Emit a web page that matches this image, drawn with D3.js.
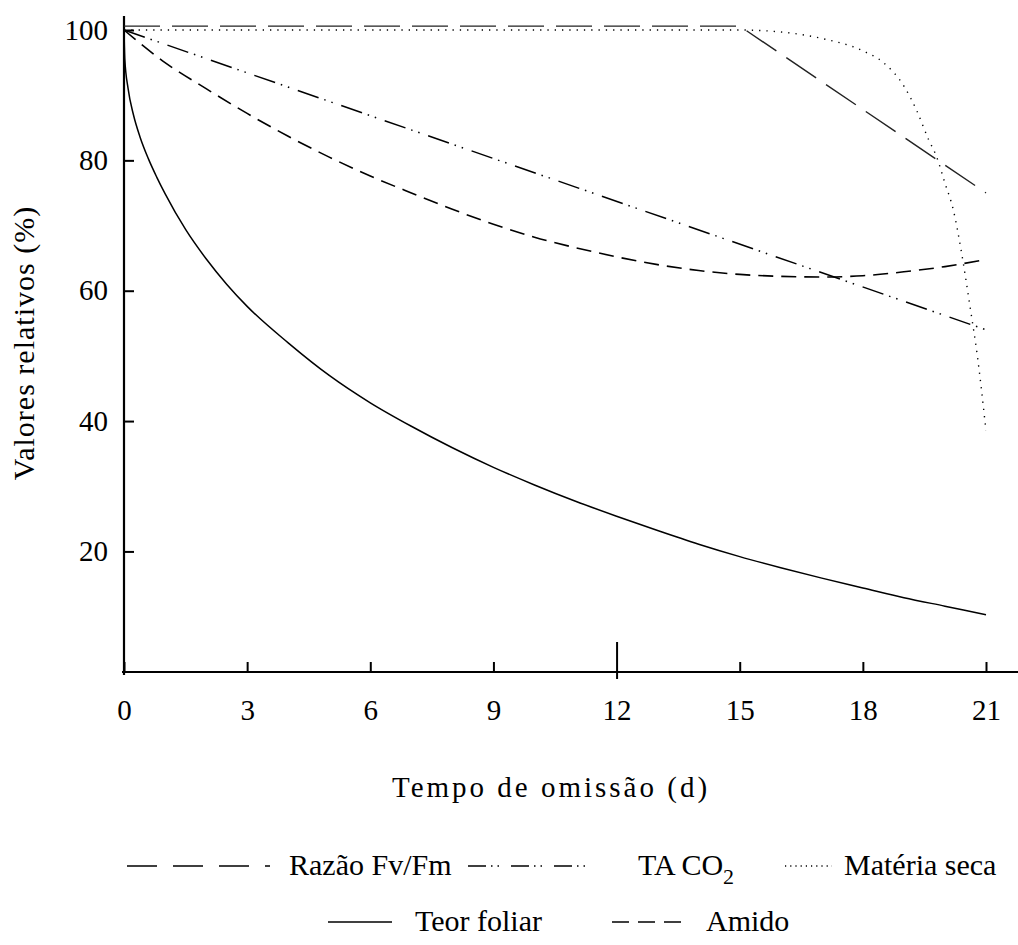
<!DOCTYPE html>
<html>
<head>
<meta charset="utf-8">
<script src="https://cdn.jsdelivr.net/npm/d3@7"></script>
<style>
  html, body { margin: 0; padding: 0; background: #fff; }
</style>
</head>
<body>
<svg id="chart" width="1018" height="945"></svg>
<script>
// --- data ---
const xTicks = [0, 3, 6, 9, 12, 15, 18, 21];
const yTicks = [20, 40, 60, 80, 100];

const razaoDays = [0, 15, 21];
const razaoVals = [100.6, 100.6, 75];

const taDays = [0, 21];
const taVals = [100, 54];

const materiaDays = [0, 15, 16, 17, 18, 18.5, 19, 19.3, 19.6, 19.8, 20, 20.2, 20.4, 20.6, 20.8, 21];
const materiaVals = [100, 100, 99.7, 98.7, 96.8, 95, 91.4, 87.8, 83.2, 80.5, 76.5, 72.5, 66, 58, 49.5, 38.5];

const teorDays = [0, 0.02, 0.1, 0.23, 0.39, 0.59, 0.8, 1, 1.5, 2, 2.5, 3, 4, 5, 6, 7, 8, 9, 10, 11, 12, 13, 14, 15, 16, 17, 18, 19, 20, 21];
const teorVals = [100, 95.5, 91, 87, 83.6, 80.3, 77.4, 74.9, 69.4, 64.9, 61, 57.6, 52, 47, 42.8, 39.2, 35.9, 32.9, 30.2, 27.7, 25.4, 23.2, 21.1, 19.2, 17.5, 15.9, 14.4, 12.9, 11.6, 10.3];

const amidoDays = [0, 1, 2, 3, 4, 5, 6, 7, 8, 9, 10, 11, 12, 13, 14, 15, 16, 17, 18, 19, 20, 21];
const amidoVals = [100, 95, 91, 87.2, 83.7, 80.5, 77.6, 75, 72.5, 70.2, 68.2, 66.6, 65.2, 64, 63.1, 62.5, 62.2, 62.1, 62.3, 62.9, 63.7, 64.8];

// --- series styling ---
const series = [
  { name: "Razão Fv/Fm", days: razaoDays, vals: razaoVals, dash: "36,12", leg: "30,16", width: 1.4, color: "#222", curve: d3.curveLinear },
  { name: "TA CO", sub: "2", days: taDays, vals: taVals, dash: "22,6,1.5,6,1.5,9", leg: "18,5,1.5,5,1.5,12", width: 1.5, color: "#000", curve: d3.curveLinear },
  { name: "Matéria seca", days: materiaDays, vals: materiaVals, dash: "1.3,6", leg: "1.2,4", width: 1.4, color: "#000", curve: d3.curveMonotoneX },
  { name: "Teor foliar", days: teorDays, vals: teorVals, dash: null, leg: null, width: 1.5, color: "#000", curve: d3.curveMonotoneX },
  { name: "Amido", days: amidoDays, vals: amidoVals, dash: "15,8", leg: "17,9", width: 1.6, color: "#000", curve: d3.curveMonotoneX }
];

const W = 1018, H = 945;
const FONT = '"Liberation Serif", "Times New Roman", serif';
const svg = d3.select("#chart").style("font-family", FONT);

const x = d3.scaleLinear().domain([0, 21]).range([124, 986]);
const y = d3.scaleLinear().domain([1.5, 100]).range([672, 30]);

// axes
const xAxis = svg.append("g")
  .attr("transform", `translate(0,${y(1.5)})`)
  .call(d3.axisBottom(x).tickValues(xTicks).tickSize(-10).tickSizeOuter(0).tickPadding(27));
xAxis.select(".domain").remove();
xAxis.selectAll(".tick line").attr("stroke", "#000").attr("stroke-width", 2);
xAxis.selectAll(".tick").filter(d => d === 12).select("line").attr("y1", 7).attr("y2", -30);
xAxis.selectAll("text").attr("font-size", 29).attr("fill", "#000").style("font-family", FONT);
xAxis.append("line")
  .attr("x1", x(0) - 2).attr("x2", W)
  .attr("stroke", "#000").attr("stroke-width", 2.2);

const yAxis = svg.append("g")
  .attr("transform", `translate(${x(0)},0)`)
  .call(d3.axisLeft(y).tickValues(yTicks).tickSize(-10).tickSizeOuter(0).tickPadding(16));
yAxis.select(".domain").remove();
yAxis.selectAll(".tick line").attr("stroke", "#000").attr("stroke-width", 2);
yAxis.selectAll("text").attr("font-size", 29).attr("fill", "#000").style("font-family", FONT);
yAxis.append("line")
  .attr("y1", 16).attr("y2", y(1.5) + 3)
  .attr("stroke", "#000").attr("stroke-width", 2.2);

// axis titles
svg.append("text")
  .attr("x", 551).attr("y", 797)
  .attr("text-anchor", "middle").attr("font-size", 29)
  .style("letter-spacing", "3px")
  .text("Tempo de omissão (d)");

svg.append("text")
  .attr("transform", "translate(34,343) rotate(-90)")
  .attr("text-anchor", "middle").attr("font-size", 30)
  .style("letter-spacing", "1px")
  .text("Valores relativos (%)");

// lines
const line = d3.line().x(d => x(d[0])).y(d => y(d[1]));
series.forEach(s => {
  svg.append("path")
    .datum(d3.zip(s.days, s.vals))
    .attr("d", line.curve(s.curve))
    .attr("fill", "none")
    .attr("stroke", s.color)
    .attr("stroke-width", s.width)
    .attr("stroke-dasharray", s.dash);
});

// legend
const legendItems = [
  { s: series[0], x1: 127, x2: 270, tx: 289, ty: 875 },
  { s: series[1], x1: 468, x2: 597, tx: 638, ty: 875 },
  { s: series[2], x1: 785, x2: 832, tx: 844, ty: 875 },
  { s: series[3], x1: 328, x2: 392, tx: 415, ty: 931 },
  { s: series[4], x1: 612, x2: 682, tx: 706, ty: 931 }
];
const legend = svg.append("g");
legendItems.forEach(it => {
  legend.append("line")
    .attr("x1", it.x1).attr("x2", it.x2)
    .attr("y1", it.ty - 9).attr("y2", it.ty - 9)
    .attr("stroke", "#000").attr("stroke-width", 1.5)
    .attr("stroke-dasharray", it.s.leg);
  const t = legend.append("text")
    .attr("x", it.tx).attr("y", it.ty)
    .attr("font-size", 30)
    .text(it.s.name);
  if (it.s.sub) {
    t.append("tspan").attr("dy", 9).attr("font-size", 22).text(it.s.sub);
  }
});
</script>
</body>
</html>
